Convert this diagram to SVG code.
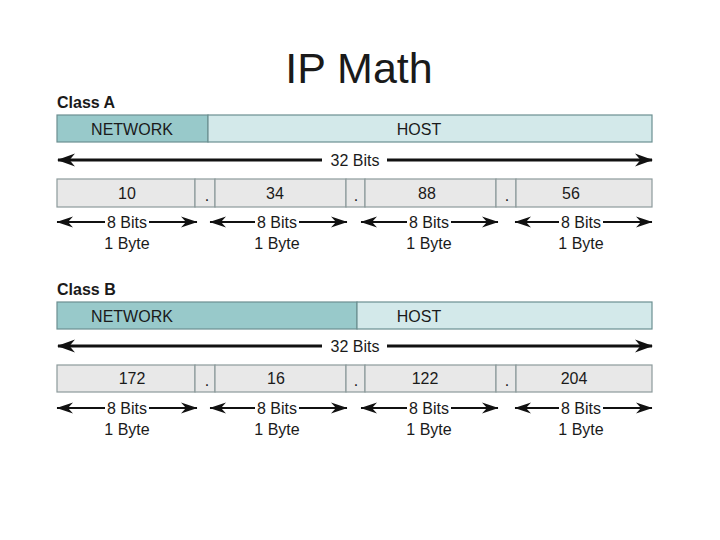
<svg xmlns="http://www.w3.org/2000/svg" width="720" height="540" viewBox="0 0 720 540">
<defs>
<style>
text{font-family:"Liberation Sans",Arial,sans-serif;fill:#1a1a1a;}
.lbl{font-size:16px;text-anchor:middle;}
.cls{font-size:16px;font-weight:bold;}
.net{fill:#98c9ca;stroke:#6c8f91;stroke-width:1.2;}
.host{fill:#d3e9ea;stroke:#6c8f91;stroke-width:1.2;}
.oct{fill:#e8e8e8;stroke:#8c9a9b;stroke-width:1.2;}
.big{stroke:#111;stroke-width:3.2;fill:none;}
.sm{stroke:#111;stroke-width:2.2;fill:none;}
</style>
<marker id="ahBig" markerUnits="userSpaceOnUse" markerWidth="19" markerHeight="14" refX="17" refY="7" orient="auto-start-reverse" viewBox="0 0 19 14">
<path d="M18,7 L0,0.5 L5.5,7 L0,13.5 Z" fill="#111"/>
</marker>
<marker id="ahSm" markerUnits="userSpaceOnUse" markerWidth="17" markerHeight="12" refX="16" refY="6" orient="auto-start-reverse" viewBox="0 0 17 12">
<path d="M16.5,6 L0,0.5 L5,6 L0,11.5 Z" fill="#111"/>
</marker>
</defs>
<rect width="720" height="540" fill="#fff"/>
<text x="359" y="83" style="font-size:43px;text-anchor:middle">IP Math</text>

<g id="classA">
<text class="cls" x="57" y="108">Class A</text>
<g id="a-network"><rect class="net" x="57" y="115" width="151" height="27"/><text class="lbl" x="132" y="135">NETWORK</text></g>
<g id="a-host"><rect class="host" x="208" y="115" width="444" height="27"/><text class="lbl" x="419" y="135">HOST</text></g>
<text class="lbl" x="355" y="166">32 Bits</text>
<g id="a-oct1"><rect class="oct" x="57" y="179" width="138" height="28"/><text class="lbl" x="127" y="199">10</text></g>
<g id="a-dot1"><rect class="oct" x="195" y="179" width="20" height="28"/><text class="lbl" x="207" y="201">.</text></g>
<g id="a-oct2"><rect class="oct" x="215" y="179" width="131" height="28"/><text class="lbl" x="275" y="199">34</text></g>
<g id="a-dot2"><rect class="oct" x="346" y="179" width="19" height="28"/><text class="lbl" x="356" y="201">.</text></g>
<g id="a-oct3"><rect class="oct" x="365" y="179" width="131" height="28"/><text class="lbl" x="427" y="199">88</text></g>
<g id="a-dot3"><rect class="oct" x="496" y="179" width="20" height="28"/><text class="lbl" x="507" y="201">.</text></g>
<g id="a-oct4"><rect class="oct" x="516" y="179" width="136" height="28"/><text class="lbl" x="571" y="199">56</text></g>
<g class="bits">
<text class="lbl" x="127" y="228">8 Bits</text><text class="lbl" x="127" y="249">1 Byte</text>
<text class="lbl" x="277" y="228">8 Bits</text><text class="lbl" x="277" y="249">1 Byte</text>
<text class="lbl" x="429" y="228">8 Bits</text><text class="lbl" x="429" y="249">1 Byte</text>
<text class="lbl" x="581" y="228">8 Bits</text><text class="lbl" x="581" y="249">1 Byte</text>
</g>
</g>

<g id="classB">
<text class="cls" x="57" y="295">Class B</text>
<g id="b-network"><rect class="net" x="57" y="302" width="300" height="27"/><text class="lbl" x="132" y="322">NETWORK</text></g>
<g id="b-host"><rect class="host" x="357" y="302" width="295" height="27"/><text class="lbl" x="419" y="322">HOST</text></g>
<text class="lbl" x="355" y="352">32 Bits</text>
<g id="b-oct1"><rect class="oct" x="57" y="365" width="138" height="27"/><text class="lbl" x="132" y="384">172</text></g>
<g id="b-dot1"><rect class="oct" x="195" y="365" width="20" height="27"/><text class="lbl" x="207" y="386">.</text></g>
<g id="b-oct2"><rect class="oct" x="215" y="365" width="131" height="27"/><text class="lbl" x="276" y="384">16</text></g>
<g id="b-dot2"><rect class="oct" x="346" y="365" width="19" height="27"/><text class="lbl" x="356" y="386">.</text></g>
<g id="b-oct3"><rect class="oct" x="365" y="365" width="131" height="27"/><text class="lbl" x="425" y="384">122</text></g>
<g id="b-dot3"><rect class="oct" x="496" y="365" width="20" height="27"/><text class="lbl" x="507" y="386">.</text></g>
<g id="b-oct4"><rect class="oct" x="516" y="365" width="136" height="27"/><text class="lbl" x="574" y="384">204</text></g>
<g class="bits">
<text class="lbl" x="127" y="414">8 Bits</text><text class="lbl" x="127" y="435">1 Byte</text>
<text class="lbl" x="277" y="414">8 Bits</text><text class="lbl" x="277" y="435">1 Byte</text>
<text class="lbl" x="429" y="414">8 Bits</text><text class="lbl" x="429" y="435">1 Byte</text>
<text class="lbl" x="581" y="414">8 Bits</text><text class="lbl" x="581" y="435">1 Byte</text>
</g>
</g>

<g id="connectors">
<line class="big" x1="322" y1="160" x2="58" y2="160" marker-end="url(#ahBig)"/>
<line class="big" x1="387" y1="160" x2="652" y2="160" marker-end="url(#ahBig)"/>
<line class="big" x1="322" y1="346" x2="58" y2="346" marker-end="url(#ahBig)"/>
<line class="big" x1="387" y1="346" x2="652" y2="346" marker-end="url(#ahBig)"/>

<line class="sm" x1="105" y1="222" x2="57" y2="222" marker-end="url(#ahSm)"/>
<line class="sm" x1="149" y1="222" x2="197" y2="222" marker-end="url(#ahSm)"/>
<line class="sm" x1="255" y1="222" x2="210" y2="222" marker-end="url(#ahSm)"/>
<line class="sm" x1="299" y1="222" x2="347" y2="222" marker-end="url(#ahSm)"/>
<line class="sm" x1="407" y1="222" x2="361" y2="222" marker-end="url(#ahSm)"/>
<line class="sm" x1="451" y1="222" x2="498" y2="222" marker-end="url(#ahSm)"/>
<line class="sm" x1="559" y1="222" x2="515" y2="222" marker-end="url(#ahSm)"/>
<line class="sm" x1="603" y1="222" x2="652" y2="222" marker-end="url(#ahSm)"/>

<line class="sm" x1="105" y1="408" x2="57" y2="408" marker-end="url(#ahSm)"/>
<line class="sm" x1="149" y1="408" x2="197" y2="408" marker-end="url(#ahSm)"/>
<line class="sm" x1="255" y1="408" x2="210" y2="408" marker-end="url(#ahSm)"/>
<line class="sm" x1="299" y1="408" x2="347" y2="408" marker-end="url(#ahSm)"/>
<line class="sm" x1="407" y1="408" x2="361" y2="408" marker-end="url(#ahSm)"/>
<line class="sm" x1="451" y1="408" x2="498" y2="408" marker-end="url(#ahSm)"/>
<line class="sm" x1="559" y1="408" x2="515" y2="408" marker-end="url(#ahSm)"/>
<line class="sm" x1="603" y1="408" x2="652" y2="408" marker-end="url(#ahSm)"/>
</g>
</svg>
